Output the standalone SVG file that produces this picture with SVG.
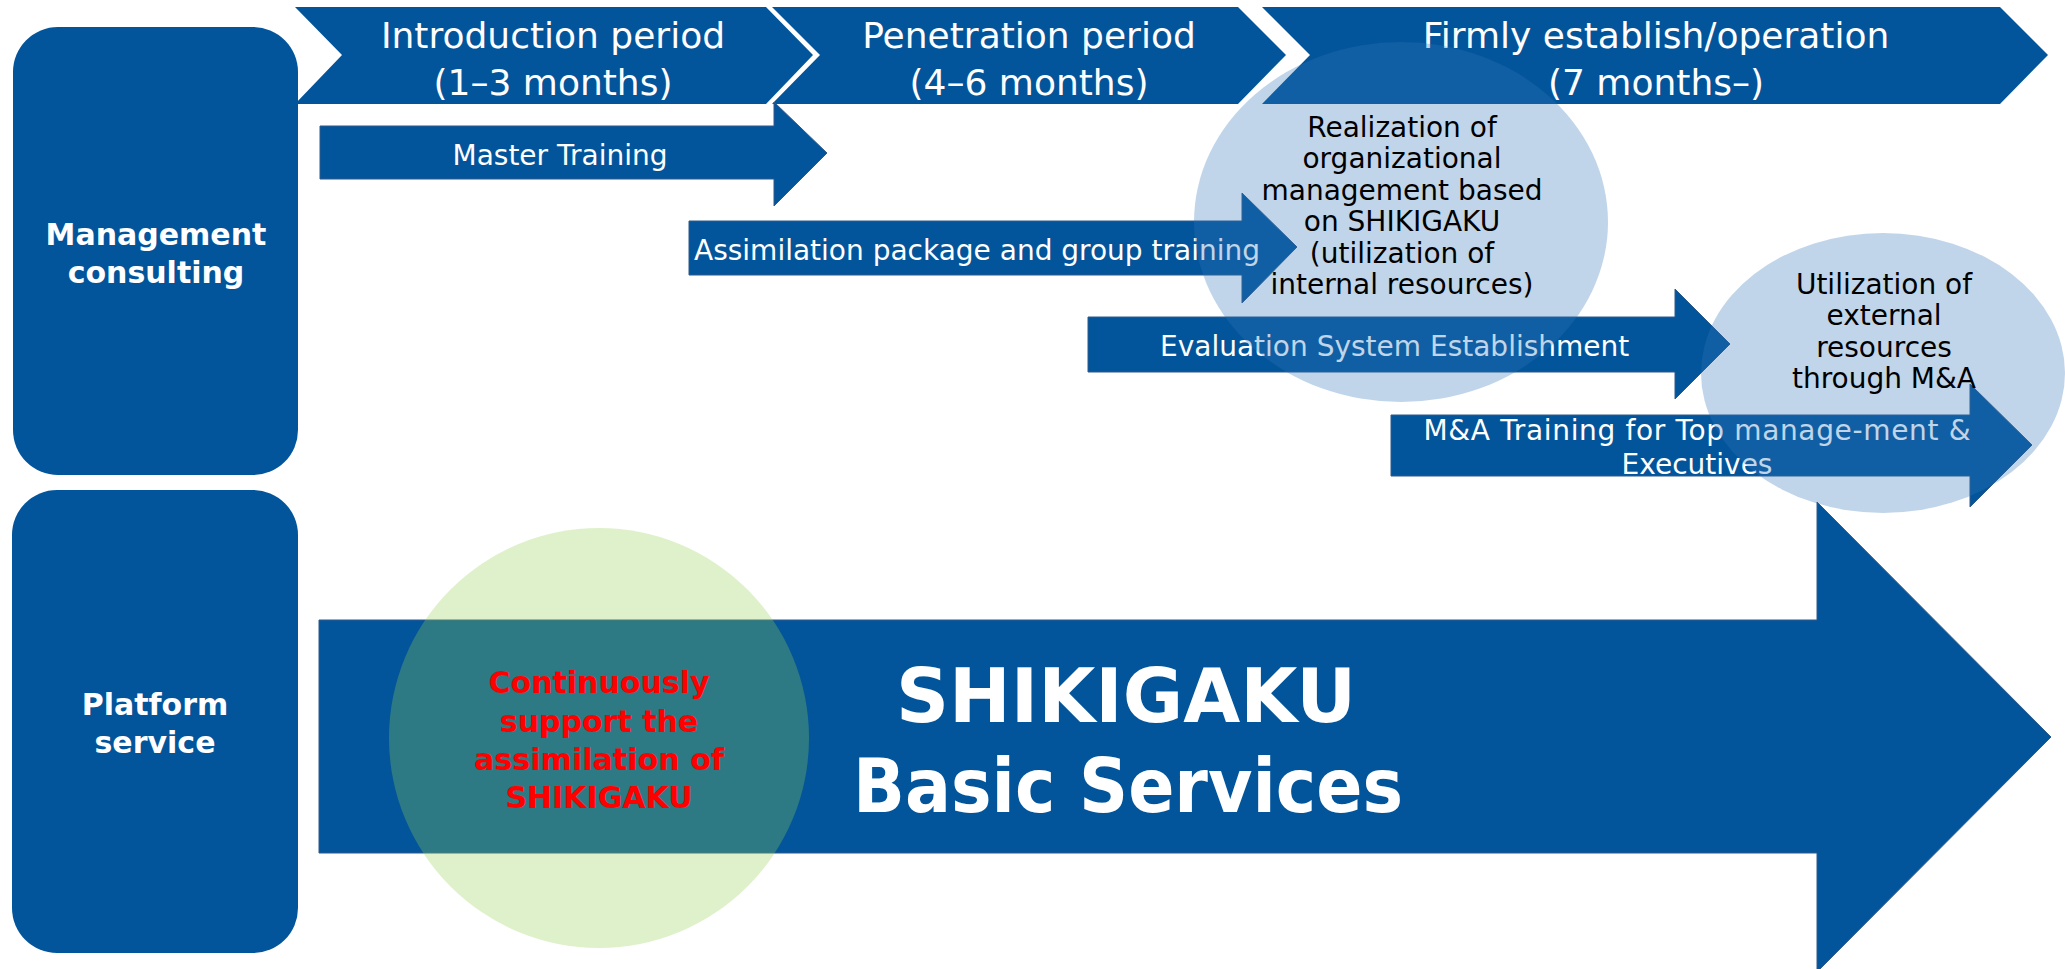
<svg xmlns="http://www.w3.org/2000/svg" width="2065" height="969" viewBox="0 0 2065 969">
<style>
.blue{fill:#03559B}
.arr{fill:#03559B;stroke:#2F5A8C;stroke-width:1}
.lbl{font-family:"DejaVu Sans","Liberation Sans",sans-serif;fill:#fff;text-anchor:middle}
.side{font-family:"DejaVu Sans","Liberation Sans",sans-serif;font-weight:bold;font-size:30px;fill:#fff;text-anchor:middle}
.per{font-size:36px}
.bar{font-size:28px}
.bub{font-family:"DejaVu Sans","Liberation Sans",sans-serif;font-size:28px;fill:#000;text-anchor:middle}
.lb{fill:#2E75B6;fill-opacity:0.3}
.gr{fill:#92D050;fill-opacity:0.3}
.red{font-family:"DejaVu Sans","Liberation Sans",sans-serif;font-weight:bold;font-size:30px;fill:#FF0000;text-anchor:middle}
.big{font-family:"DejaVu Sans","Liberation Sans",sans-serif;font-weight:bold;font-size:75px;fill:#fff;text-anchor:middle}
</style>
<rect width="2065" height="969" fill="#fff"/>
<g id="management-consulting">
<rect class="blue" x="13" y="27" width="285" height="448" rx="45" ry="45"/>
<text class="side" x="156" y="245">Management</text>
<text class="side" x="156" y="283">consulting</text>
</g>
<g id="platform-service">
<rect class="blue" x="12" y="490" width="286" height="463" rx="45" ry="45"/>
<text class="side" x="155" y="715">Platform</text>
<text class="side" x="155" y="753">service</text>
</g>
<g id="phase-introduction">
<polygon class="blue" points="295,7 766,7 813,55 766,104 295,104 342,55"/>
<text class="lbl per" x="553" y="48">Introduction period</text>
<text class="lbl per" x="553" y="95">(1–3 months)</text>
</g>
<g id="phase-penetration">
<polygon class="blue" points="772,7 1238,7 1286,55 1238,104 772,104 820,55"/>
<text class="lbl per" x="1029" y="48">Penetration period</text>
<text class="lbl per" x="1029" y="95">(4–6 months)</text>
</g>
<g id="phase-establish">
<polygon class="blue" points="1262,7 2000,7 2048,55 2000,104 1262,104 1310,55"/>
<text class="lbl per" x="1656" y="48">Firmly establish/operation</text>
<text class="lbl per" x="1656" y="95">(7 months–)</text>
</g>
<g id="connectors">
<g id="master-training">
<polygon class="arr" points="320,126 774,126 774,102 827,153 774,206 774,179 320,179"/>
<text class="lbl bar" x="560" y="165">Master Training</text>
</g>
<g id="assimilation">
<polygon class="arr" points="689,221 1242,221 1242,193 1297,247 1242,303 1242,275 689,275"/>
<text class="lbl bar" x="694" y="260" style="text-anchor:start">Assimilation package and group training</text>
</g>
<g id="evaluation">
<polygon class="arr" points="1088,317 1675,317 1675,289 1730,344 1675,399 1675,372 1088,372"/>
<text class="lbl bar" x="1160" y="356" style="text-anchor:start">Evaluation System Establishment</text>
</g>
<g id="ma-training">
<polygon class="arr" points="1391,415 1970,415 1970,384 2032,445 1970,507 1970,476 1391,476"/>
<text class="lbl bar" x="1697" y="440" textLength="547" lengthAdjust="spacing">M&amp;A Training for Top manage-ment &amp;</text>
<text class="lbl bar" x="1697" y="474">Executives</text>
</g>
</g>
<g id="internal-resources">
<ellipse class="lb" cx="1401" cy="222" rx="207" ry="180"/>
<text class="bub" x="1402" y="137">Realization of</text>
<text class="bub" x="1402" y="168">organizational</text>
<text class="bub" x="1402" y="200">management based</text>
<text class="bub" x="1402" y="231">on SHIKIGAKU</text>
<text class="bub" x="1402" y="263">(utilization of</text>
<text class="bub" x="1402" y="294">internal resources)</text>
</g>
<g id="external-resources">
<ellipse class="lb" cx="1883" cy="373" rx="182" ry="140"/>
<text class="bub" x="1884" y="294">Utilization of</text>
<text class="bub" x="1884" y="325">external</text>
<text class="bub" x="1884" y="357">resources</text>
<text class="bub" x="1884" y="388">through M&amp;A</text>
</g>
<g id="basic-services">
<polygon class="arr" points="319,620 1817,620 1817,502 2051,737 1817,972 1817,853 319,853"/>
<text class="big" x="1126" y="722" textLength="460" lengthAdjust="spacingAndGlyphs">SHIKIGAKU</text>
<text class="big" x="1128" y="812" textLength="550" lengthAdjust="spacingAndGlyphs">Basic Services</text>
</g>
<g id="continuous-support">
<circle class="gr" cx="599" cy="738" r="210"/>
<text class="red" x="599" y="693">Continuously</text>
<text class="red" x="599" y="732">support the</text>
<text class="red" x="599" y="770" textLength="250" lengthAdjust="spacingAndGlyphs">assimilation of</text>
<text class="red" x="599" y="808">SHIKIGAKU</text>
</g>
</svg>
